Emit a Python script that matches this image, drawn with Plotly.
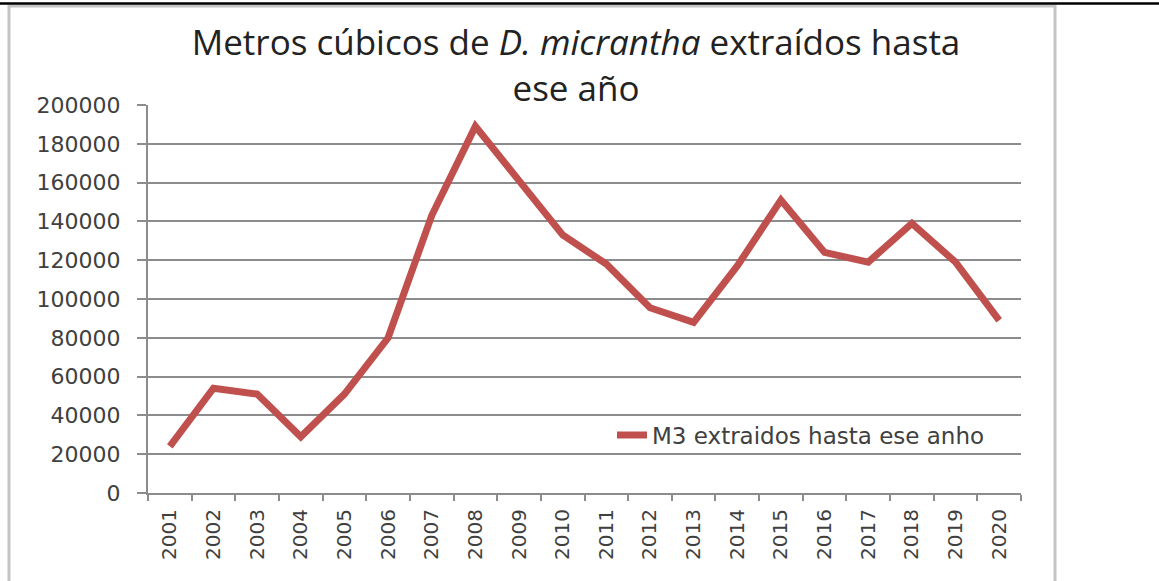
import plotly.graph_objects as go

years = [str(y) for y in range(2001, 2021)]
m3_values = [24000, 54000, 51000, 29000, 51000, 80000, 143000, 189000, 161000, 133000,
             118000, 95500, 88000, 117000, 151000, 124000, 119000, 139000, 119000, 89000]
y_ticks = [0, 20000, 40000, 60000, 80000, 100000, 120000, 140000, 160000, 180000, 200000]
series_name = "M3 extraidos hasta ese anho"
title_text = "Metros cúbicos de <i>D. micrantha</i> extraídos hasta<br>ese año"

W, H = 1159, 581
L, R, T, B = 148, 138, 105, 88
PW, PH = W - L - R, H - T - B

def px(x):
    return (x - L) / PW

def py(y):
    return (H - B - y) / PH

fig = go.Figure()
fig.add_trace(go.Scatter(
    x=years, y=m3_values, mode="lines", name=series_name,
    line=dict(color="#C0504D", width=7),
))

fig.update_layout(
    width=W, height=H,
    margin=dict(l=L, r=R, t=T, b=B),
    paper_bgcolor="white", plot_bgcolor="white",
    title=dict(text=title_text, x=0.497, xanchor="center", xref="container",
               y=1 - 55 / H, yanchor="middle", yref="container",
               font=dict(family="Open Sans", size=35, color="#222222")),
    showlegend=True,
    legend=dict(x=px(612), y=py(435), xanchor="left", yanchor="middle",
                bgcolor="rgba(255,255,255,0)", font=dict(family="DejaVu Sans", size=23, color="#404040"),
                itemwidth=30),
    xaxis=dict(type="category", range=[-0.5, len(years) - 0.5], showgrid=False,
               showline=True, linecolor="#8c8c8c", linewidth=2,
               ticks="outside", tickson="boundaries", ticklen=6, tickcolor="#8c8c8c", tickwidth=1.5,
               tickangle=-90, ticklabelstandoff=6,
               tickfont=dict(family="DejaVu Sans", size=20, color="#404040")),
    yaxis=dict(range=[0, 200000], tickvals=y_ticks, ticktext=[str(v) for v in y_ticks],
               showgrid=True, gridcolor="#8c8c8c", gridwidth=1.5, zeroline=False,
               showline=True, linecolor="#8c8c8c", linewidth=2,
               ticks="outside", ticklen=9, tickcolor="#8c8c8c", tickwidth=1.5,
               ticklabelstandoff=12,
               tickfont=dict(family="DejaVu Sans", size=22, color="#404040")),
    shapes=[
        dict(type="rect", xref="paper", yref="paper", x0=px(9), x1=px(1055), y0=py(590), y1=py(6),
             line=dict(color="#c4c4c4", width=3), fillcolor="rgba(0,0,0,0)", layer="below"),
        dict(type="line", xref="paper", yref="paper", x0=px(0), x1=px(1159), y0=py(3.5), y1=py(3.5),
             line=dict(color="black", width=2.5)),
    ],
)

fig.write_html("out.html", config={"displayModeBar": False},
               post_script="document.body.style.margin='0px';")
